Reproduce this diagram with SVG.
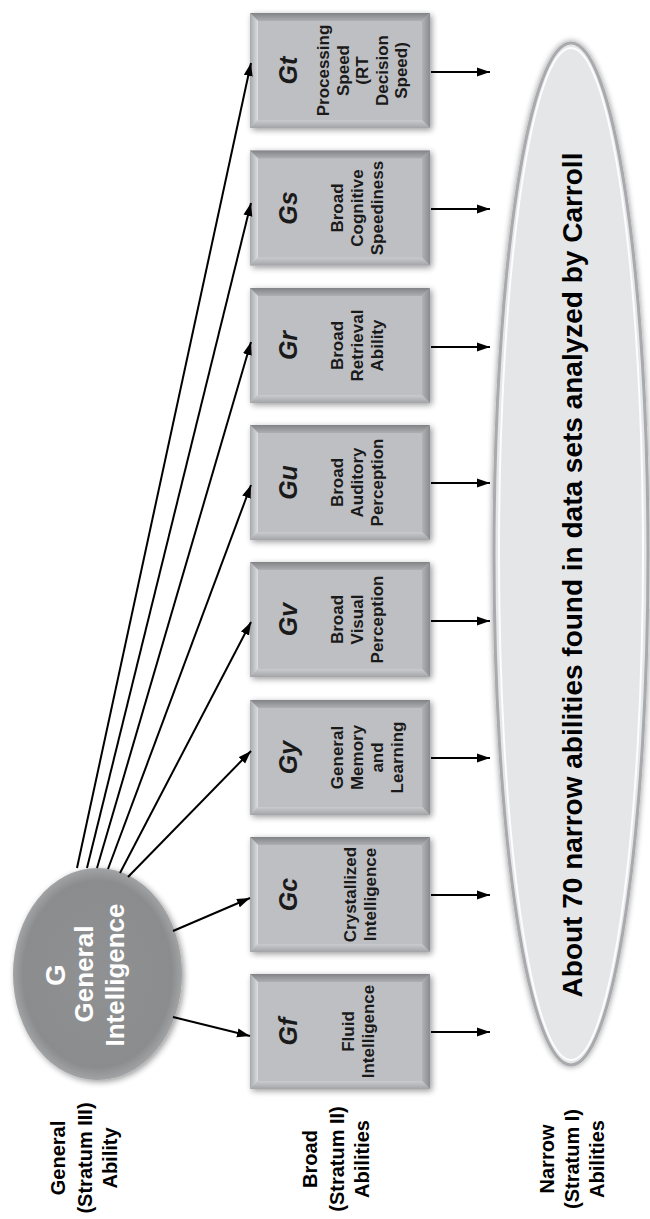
<svg xmlns="http://www.w3.org/2000/svg" xmlns:xlink="http://www.w3.org/1999/xlink" width="650" height="1219" viewBox="0 0 650 1219">
<style>
  text { font-family: "Liberation Sans", Arial, sans-serif; font-weight: bold; text-anchor: middle; }
  .sym { font-size: 25px; font-style: italic; fill: #1a1a1a; }
  .lbl { font-size: 17px; fill: #1a1a1a; }
  .gsym { font-size: 28px; fill: #ffffff; }
  .gtxt { font-size: 26px; fill: #ffffff; }
  .stratum { font-size: 20px; fill: #000; }
  .narrow { font-size: 28px; fill: #000; }
  .conn line { stroke: #000; stroke-width: 2; marker-end: url(#arrow); }
</style>
<defs>
  <marker id="arrow" markerUnits="userSpaceOnUse" markerWidth="14" markerHeight="10" refX="13" refY="5" orient="auto">
    <path d="M0,0.5 L13,5 L0,9.5 Z" fill="#000"/>
  </marker>
  <filter id="shadow" x="-20%" y="-20%" width="140%" height="140%">
    <feGaussianBlur in="SourceAlpha" stdDeviation="3"/>
    <feOffset dx="2" dy="2" result="b"/>
    <feComponentTransfer><feFuncA type="linear" slope="0.4"/></feComponentTransfer>
    <feMerge><feMergeNode/><feMergeNode in="SourceGraphic"/></feMerge>
  </filter>
  <filter id="softshadow" x="-20%" y="-5%" width="140%" height="110%">
    <feGaussianBlur in="SourceAlpha" stdDeviation="3"/>
    <feComponentTransfer><feFuncA type="linear" slope="0.45"/></feComponentTransfer>
    <feMerge><feMergeNode/><feMergeNode in="SourceGraphic"/></feMerge>
  </filter>
  <radialGradient id="gGrad" cx="50%" cy="50%" r="50%">
    <stop offset="0" stop-color="#909193"/>
    <stop offset="0.88" stop-color="#8b8c8e"/>
    <stop offset="1" stop-color="#a2a3a5"/>
  </radialGradient>
  <linearGradient id="topBev" x1="0" y1="0" x2="0" y2="1">
    <stop offset="0" stop-color="#828387"/>
    <stop offset="1" stop-color="#aeafb3"/>
  </linearGradient>
  <linearGradient id="leftBev" x1="0" y1="0" x2="1" y2="0">
    <stop offset="0" stop-color="#a8a9ad"/>
    <stop offset="1" stop-color="#dcdde0"/>
  </linearGradient>
  <linearGradient id="rightBev" x1="0" y1="0" x2="1" y2="0">
    <stop offset="0" stop-color="#b2b3b7"/>
    <stop offset="1" stop-color="#8a8b8f"/>
  </linearGradient>
  <linearGradient id="botBev" x1="0" y1="0" x2="0" y2="1">
    <stop offset="0" stop-color="#cacbce"/>
    <stop offset="1" stop-color="#a3a4a8"/>
  </linearGradient>
  <g id="boxShape" filter="url(#shadow)">
    <rect x="0" y="0" width="180" height="115" fill="#bebfc3"/>
    <path d="M0,0 H180 L172,8 H8 Z" fill="url(#topBev)"/>
    <path d="M0,0 L8,8 V107 L0,115 Z" fill="url(#leftBev)"/>
    <path d="M180,0 V115 L172,107 V8 Z" fill="url(#rightBev)"/>
    <path d="M0,115 L8,107 H172 L180,115 Z" fill="url(#botBev)"/>
  </g>
</defs>

<rect width="650" height="1219" fill="#ffffff"/>

<!-- Narrow abilities ellipse -->
<g id="narrow-ellipse">
  <ellipse cx="571" cy="554" rx="77" ry="511" fill="#e5e6e8" stroke="#a9aaad" stroke-width="3" filter="url(#softshadow)"/>
  <ellipse cx="571" cy="554" rx="72" ry="506" fill="none" stroke="#ffffff" stroke-width="2" opacity="0.9"/>
  <text class="narrow" transform="translate(572,575) rotate(-90)" dy="0.35em">About 70 narrow abilities found in data sets analyzed by Carroll</text>
</g>

<!-- General intelligence -->
<g id="node-G">
  <ellipse cx="97.5" cy="974" rx="84.5" ry="106" fill="url(#gGrad)" filter="url(#shadow)"/>
  <text class="gsym" transform="translate(55,975) rotate(-90)" dy="0.35em">G</text>
  <text class="gtxt" transform="translate(84,974) rotate(-90)" dy="0.35em">General</text>
  <text class="gtxt" transform="translate(115,975) rotate(-90)" dy="0.35em">Intelligence</text>
</g>

<!-- Broad ability boxes -->
<g id="node-Gt">
  <use xlink:href="#boxShape" x="250" y="13"/>
  <text class="sym" transform="translate(288,70.5) rotate(-90)" dy="0.35em">Gt</text>
  <text class="lbl" transform="translate(323,70.5) rotate(-90)" dy="0.35em">Processing</text>
  <text class="lbl" transform="translate(343,70.5) rotate(-90)" dy="0.35em">Speed</text>
  <text class="lbl" transform="translate(362,70.5) rotate(-90)" dy="0.35em">(RT</text>
  <text class="lbl" transform="translate(382,70.5) rotate(-90)" dy="0.35em">Decision</text>
  <text class="lbl" transform="translate(401,70.5) rotate(-90)" dy="0.35em">Speed)</text>
</g>
<g id="node-Gs">
  <use xlink:href="#boxShape" x="250" y="150.5"/>
  <text class="sym" transform="translate(288,208) rotate(-90)" dy="0.35em">Gs</text>
  <text class="lbl" transform="translate(337,208) rotate(-90)" dy="0.35em">Broad</text>
  <text class="lbl" transform="translate(357,208) rotate(-90)" dy="0.35em">Cognitive</text>
  <text class="lbl" transform="translate(377,208) rotate(-90)" dy="0.35em">Speediness</text>
</g>
<g id="node-Gr">
  <use xlink:href="#boxShape" x="250" y="288"/>
  <text class="sym" transform="translate(288,345.5) rotate(-90)" dy="0.35em">Gr</text>
  <text class="lbl" transform="translate(337,345.5) rotate(-90)" dy="0.35em">Broad</text>
  <text class="lbl" transform="translate(357,345.5) rotate(-90)" dy="0.35em">Retrieval</text>
  <text class="lbl" transform="translate(377,345.5) rotate(-90)" dy="0.35em">Ability</text>
</g>
<g id="node-Gu">
  <use xlink:href="#boxShape" x="250" y="425"/>
  <text class="sym" transform="translate(288,482.5) rotate(-90)" dy="0.35em">Gu</text>
  <text class="lbl" transform="translate(337,482.5) rotate(-90)" dy="0.35em">Broad</text>
  <text class="lbl" transform="translate(357,482.5) rotate(-90)" dy="0.35em">Auditory</text>
  <text class="lbl" transform="translate(377,482.5) rotate(-90)" dy="0.35em">Perception</text>
</g>
<g id="node-Gv">
  <use xlink:href="#boxShape" x="250" y="562"/>
  <text class="sym" transform="translate(288,619.5) rotate(-90)" dy="0.35em">Gv</text>
  <text class="lbl" transform="translate(337,619.5) rotate(-90)" dy="0.35em">Broad</text>
  <text class="lbl" transform="translate(357,619.5) rotate(-90)" dy="0.35em">Visual</text>
  <text class="lbl" transform="translate(377,619.5) rotate(-90)" dy="0.35em">Perception</text>
</g>
<g id="node-Gy">
  <use xlink:href="#boxShape" x="250" y="700"/>
  <text class="sym" transform="translate(288,757.5) rotate(-90)" dy="0.35em">Gy</text>
  <text class="lbl" transform="translate(337,757.5) rotate(-90)" dy="0.35em">General</text>
  <text class="lbl" transform="translate(357,757.5) rotate(-90)" dy="0.35em">Memory</text>
  <text class="lbl" transform="translate(377,757.5) rotate(-90)" dy="0.35em">and</text>
  <text class="lbl" transform="translate(397,757.5) rotate(-90)" dy="0.35em">Learning</text>
</g>
<g id="node-Gc">
  <use xlink:href="#boxShape" x="250" y="837"/>
  <text class="sym" transform="translate(288,894.5) rotate(-90)" dy="0.35em">Gc</text>
  <text class="lbl" transform="translate(350,894.5) rotate(-90)" dy="0.35em">Crystallized</text>
  <text class="lbl" transform="translate(370,894.5) rotate(-90)" dy="0.35em">Intelligence</text>
</g>
<g id="node-Gf">
  <use xlink:href="#boxShape" x="250" y="974"/>
  <text class="sym" transform="translate(288,1031.5) rotate(-90)" dy="0.35em">Gf</text>
  <text class="lbl" transform="translate(348,1031.5) rotate(-90)" dy="0.35em">Fluid</text>
  <text class="lbl" transform="translate(368,1031.5) rotate(-90)" dy="0.35em">Intelligence</text>
</g>

<!-- Connectors -->
<g id="connectors" class="conn">
  <line x1="77" y1="868" x2="251" y2="63"/>
  <line x1="87" y1="868" x2="251" y2="203"/>
  <line x1="97" y1="868" x2="251" y2="342"/>
  <line x1="108" y1="869" x2="251" y2="485"/>
  <line x1="120" y1="873" x2="251" y2="622"/>
  <line x1="128" y1="877" x2="251" y2="751"/>
  <line x1="173" y1="931" x2="250" y2="898"/>
  <line x1="173" y1="1017" x2="250" y2="1036"/>
  <line x1="431" y1="72" x2="490" y2="72"/>
  <line x1="431" y1="209" x2="490" y2="209"/>
  <line x1="431" y1="347" x2="490" y2="347"/>
  <line x1="431" y1="483" x2="490" y2="483"/>
  <line x1="431" y1="621" x2="490" y2="621"/>
  <line x1="431" y1="758" x2="490" y2="758"/>
  <line x1="431" y1="895" x2="490" y2="895"/>
  <line x1="431" y1="1032" x2="490" y2="1032"/>
</g>

<!-- Stratum labels -->
<g id="label-stratum-III">
  <text class="stratum" transform="translate(58,1158) rotate(-90)" dy="0.35em">General</text>
  <text class="stratum" transform="translate(85,1158) rotate(-90)" dy="0.35em">(Stratum III)</text>
  <text class="stratum" transform="translate(110,1158) rotate(-90)" dy="0.35em">Ability</text>
</g>
<g id="label-stratum-II">
  <text class="stratum" transform="translate(310,1159) rotate(-90)" dy="0.35em">Broad</text>
  <text class="stratum" transform="translate(337,1159) rotate(-90)" dy="0.35em">(Stratum II)</text>
  <text class="stratum" transform="translate(362,1159) rotate(-90)" dy="0.35em">Abilities</text>
</g>
<g id="label-stratum-I">
  <text class="stratum" transform="translate(547,1159) rotate(-90)" dy="0.35em">Narrow</text>
  <text class="stratum" transform="translate(572,1159) rotate(-90)" dy="0.35em">(Stratum I)</text>
  <text class="stratum" transform="translate(597,1159) rotate(-90)" dy="0.35em">Abilities</text>
</g>
</svg>
